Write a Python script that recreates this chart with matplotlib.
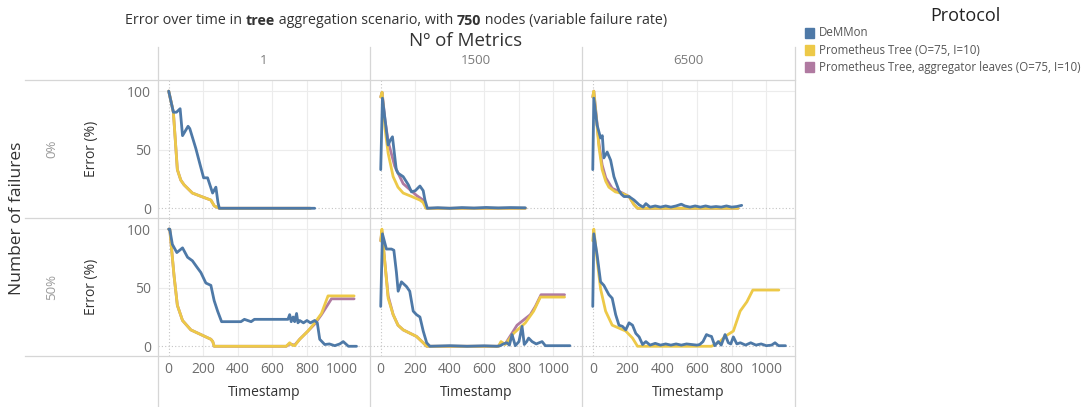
import matplotlib
matplotlib.use('Agg')
import matplotlib.pyplot as plt
from matplotlib.lines import Line2D
from matplotlib.patches import Rectangle
from matplotlib.text import Annotation

plt.rcParams['font.family'] = ['Open Sans', 'DejaVu Sans']

W, H = 1086, 407
fig = plt.figure(figsize=(W / 100, H / 100), dpi=100)


def fx(x):
    return x / W


def fy(y):
    return 1 - y / H


# ---------------- labels / categories ----------------
metrics = ['1', '1500', '6500']
failures = ['0%', '50%']
protocols = ['DeMMon', 'Prometheus Tree (O=75, I=10)',
             'Prometheus Tree, aggregator leaves (O=75, I=10)']
colors = ['#4e79a7', '#edc948', '#b07aa1']
x_ticks = [0, 200, 400, 600, 800, 1000]
y_ticks = [0, 50, 100]

# ---------------- data: 0% failures ----------------
# metrics = 1
t_dem_0_1 = [0, 27, 45, 66, 80, 112, 122, 157, 182, 202, 225, 254, 273, 285, 293, 845]
e_dem_0_1 = [100, 82, 82, 85, 62, 70, 68, 51, 37, 26, 26, 13, 18, 5, 0, 0]
t_pt_0_1 = [0, 27, 50, 70, 89, 137, 190, 244, 264, 293, 820]
e_pt_0_1 = [100, 82, 33, 24, 20, 13, 10, 7, 2, 0, 0]
t_pal_0_1 = [0, 27, 50, 70, 89, 137, 190, 244, 264, 293, 820]
e_pal_0_1 = [100, 82, 33, 24, 20, 13, 10, 7, 2, 0, 0]
# metrics = 1500
t_dem_0_1500 = [0, 10, 43, 55, 68, 90, 100, 130, 160, 178, 200, 227, 246, 256, 270,
                330, 400, 470, 540, 610, 680, 750, 837]
e_dem_0_1500 = [33, 94, 54, 58, 61, 33, 30, 27, 20, 14, 15, 19, 15, 7, 0,
                0.5, 0, 0.6, 0.2, 0.7, 0.3, 0.6, 0.4]
t_pt_0_1500 = [0, 8, 25, 43, 72, 100, 130, 180, 227, 245, 262, 837]
e_pt_0_1500 = [95, 99, 68, 47, 27, 18, 13, 10, 7, 5, 0, 0]
t_pal_0_1500 = [0, 8, 25, 43, 81, 130, 207, 246, 266, 837]
e_pal_0_1500 = [95, 99, 75, 57, 36, 21, 11, 7, 0, 0]
# metrics = 6500
t_dem_0_6500 = [0, 6, 25, 45, 55, 64, 83, 103, 122, 151, 165, 180, 209, 238, 267, 290,
                306, 330, 360, 390, 420, 450, 480, 510, 530, 560, 590, 620, 650, 680,
                710, 740, 770, 800, 830, 858]
e_dem_0_6500 = [33, 94, 71, 60, 62, 43, 48, 41, 27, 15, 12, 10, 10, 7, 3, 1,
                4, 1, 2, 1, 2, 1, 2, 3.5, 2, 1, 2, 1, 2, 1,
                1.5, 1, 2, 1, 1.5, 2.5]
t_pt_0_6500 = [0, 6, 25, 35, 54, 75, 93, 130, 171, 209, 238, 258, 837]
e_pt_0_6500 = [95, 100, 70, 53, 33, 23, 18, 14, 12.6, 10, 3, 0, 0]
t_pal_0_6500 = [0, 6, 25, 35, 54, 75, 112, 171, 209, 238, 258, 837]
e_pal_0_6500 = [95, 100, 72, 56, 37, 26, 17, 13, 10, 3, 0, 0]

# ---------------- data: 50% failures ----------------
# metrics = 1
t_dem_50_1 = [0, 6, 21, 47, 80, 109, 137, 166, 186, 215, 244, 263, 283, 306, 418, 438,
              477, 496, 690, 700, 709, 720, 729, 740, 748, 758, 780, 800, 820, 845, 860,
              874, 903, 930, 961, 990, 1010, 1040, 1087]
e_dem_50_1 = [100, 100, 87, 80, 84, 76, 73, 67, 63, 54, 52, 39, 30, 21, 21, 23,
              21, 23, 23, 27, 21, 25, 21, 28, 20, 22, 20, 22, 20, 22, 20,
              6, 1.5, 2, 0.5, 2, 4, 0, 0]
t_pt_50_1 = [0, 6, 31, 50, 80, 128, 186, 244, 255, 263, 680, 700, 715, 729, 758, 806,
             845, 884, 922, 1073]
e_pt_50_1 = [100, 100, 60, 35, 22, 14, 10, 6, 4, 0, 0, 3, 1, 0.5, 6, 13,
             20, 28, 43, 43]
t_pal_50_1 = [0, 6, 31, 50, 80, 128, 186, 244, 255, 263, 680, 700, 729, 758, 806, 845,
              884, 942, 1073]
e_pal_50_1 = [100, 100, 60, 35, 22, 14, 10, 6, 4, 0, 0, 2, 1, 6, 13, 19,
              27, 40.5, 40.5]
# metrics = 1500
t_dem_50_1500 = [0, 10, 33, 62, 76, 91, 101, 120, 149, 168, 188, 207, 227, 246, 266, 285,
                 400, 500, 600, 672, 692, 710, 730, 745, 760, 779, 800, 818, 831, 845,
                 856, 876, 900, 934, 953, 1095]
e_dem_50_1500 = [34, 96, 83, 83, 82, 63, 47, 55, 51, 47, 30, 27, 25, 13, 3, 0,
                 0.5, 0, 0.4, 0, 0.5, 2, 3, 1, 10, 0.5, 4, 17, 1.5, 4,
                 7, 4, 2, 4, 0.5, 0.5]
t_pt_50_1500 = [0, 7, 25, 43, 72, 100, 130, 207, 246, 266, 682, 696, 721, 769, 837, 885,
                924, 1064]
e_pt_50_1500 = [90, 100, 70, 41, 27, 18, 14, 8.4, 3, 0, 0, 4, 1.5, 11, 20, 30,
                42, 42]
t_pal_50_1500 = [0, 7, 25, 43, 72, 100, 130, 207, 246, 266, 682, 696, 721, 789, 866, 895,
                 928, 1064]
e_pal_50_1500 = [90, 98, 70, 43, 27, 18, 14, 8.4, 3, 0, 0, 3, 2, 18, 27, 34,
                 44, 44]
# metrics = 6500
t_dem_50_6500 = [0, 6, 25, 45, 64, 93, 112, 132, 151, 171, 190, 209, 229, 248, 267, 287,
                 306, 330, 360, 390, 420, 450, 480, 510, 540, 570, 600, 616, 635, 655,
                 670, 684, 703, 723, 740, 762, 781, 795, 810, 830, 850, 880, 910, 940,
                 970, 1000, 1030, 1050, 1070, 1110]
e_dem_50_6500 = [34, 96, 78, 55, 52, 44, 41, 27, 18, 17, 14, 20, 18, 11, 8, 1.5,
                 4, 1, 2.5, 1, 2, 1, 2, 1, 2, 1.5, 1, 1.5, 4, 10,
                 9, 8.4, 0.5, 4, 1, 10, 3, 2, 8, 2, 3, 1, 3, 1,
                 2, 0.5, 1, 3, 0.5, 0.5]
t_pt_50_6500 = [0, 6, 25, 45, 74, 112, 190, 229, 258, 684, 733, 762, 810, 849, 888, 922,
                1072]
e_pt_50_6500 = [90, 100, 74, 49, 30, 18, 13, 7, 0, 0, 4, 8.4, 13, 30, 38, 48,
                48]

# draw order inside each panel: purple, yellow, then blue on top
panels = {
    (0, 0): [(2, t_pal_0_1, e_pal_0_1), (1, t_pt_0_1, e_pt_0_1), (0, t_dem_0_1, e_dem_0_1)],
    (0, 1): [(2, t_pal_0_1500, e_pal_0_1500), (1, t_pt_0_1500, e_pt_0_1500),
             (0, t_dem_0_1500, e_dem_0_1500)],
    (0, 2): [(2, t_pal_0_6500, e_pal_0_6500), (1, t_pt_0_6500, e_pt_0_6500),
             (0, t_dem_0_6500, e_dem_0_6500)],
    (1, 0): [(2, t_pal_50_1, e_pal_50_1), (1, t_pt_50_1, e_pt_50_1), (0, t_dem_50_1, e_dem_50_1)],
    (1, 1): [(2, t_pal_50_1500, e_pal_50_1500), (1, t_pt_50_1500, e_pt_50_1500),
             (0, t_dem_50_1500, e_dem_50_1500)],
    (1, 2): [(1, t_pt_50_6500, e_pt_50_6500), (0, t_dem_50_6500, e_dem_50_6500)],
}

# ---------------- layout ----------------
col_edges = [158, 370, 582, 795]
row_edges = [80, 218, 356]
grid_c = '#ececec'
line_c = '#d6d6d6'
tick_c = '#6e6e6e'
dark = '#333333'

for r in range(2):
    for c in range(3):
        x0, x1 = col_edges[c], col_edges[c + 1]
        y0, y1 = row_edges[r], row_edges[r + 1]
        ax = fig.add_axes([fx(x0), fy(y1), (x1 - x0) / W, (y1 - y0) / H])
        ax.set_xlim(-62, 1165)
        ax.set_ylim(-8.3, 109.5)
        for s in ax.spines.values():
            s.set_visible(False)
        ax.patch.set_alpha(0)
        for xv in x_ticks[1:]:
            ax.axvline(xv, color=grid_c, lw=0.8, zorder=0)
        for yv in y_ticks[1:]:
            ax.axhline(yv, color=grid_c, lw=0.8, zorder=0)
        ax.axhline(0, color='#c4c4c4', lw=0.8, ls=(0, (1, 2)), zorder=1)
        ax.axvline(0, color='#c4c4c4', lw=0.8, ls=(0, (1, 2)), zorder=1)
        for k, (p, t, e) in enumerate(panels[(r, c)]):
            ax.plot(t, e, color=colors[p], lw=2.0, zorder=2 + k,
                    solid_joinstyle='round', solid_capstyle='round')
        ax.set_yticks(y_ticks)
        ax.set_xticks(x_ticks)
        ax.tick_params(length=0, colors=tick_c, labelsize=10)
        ax.tick_params(axis='y', pad=5)
        ax.tick_params(axis='x', pad=4)
        if c != 0:
            ax.set_yticklabels([])
        if r != 1:
            ax.set_xticklabels([])

# separator lines
for y in row_edges:
    fig.add_artist(Line2D([fx(25), fx(795)], [fy(y), fy(y)], color=line_c, lw=0.9))
for x in col_edges:
    fig.add_artist(Line2D([fx(x), fx(x)], [fy(47), fy(407)], color=line_c, lw=0.9))

# ---------------- texts ----------------
pieces = [('Error over time in ', 'normal'), ('tree', 'bold'),
          (' aggregation scenario, with ', 'normal'), ('750', 'bold'),
          (' nodes (variable failure rate)', 'normal')]
anchor = fig.text(fx(125), fy(24), pieces[0][0], fontsize=10.3, color=dark,
                  va='baseline', ha='left', weight=pieces[0][1])
for txt, wt in pieces[1:]:
    anchor = fig.add_artist(Annotation(
        txt, xy=(1, 0), xycoords=anchor, va='bottom', ha='left',
        fontsize=10.3, color=dark, weight=wt))

fig.text(fx(466), fy(41), 'Nº of Metrics', fontsize=13.5, color=dark, ha='center', va='center')
for c in range(3):
    cx = (col_edges[c] + col_edges[c + 1]) / 2
    fig.text(fx(cx), fy(60), metrics[c], fontsize=9.5, color='#7a7a7a', ha='center', va='center')
    fig.text(fx(cx), fy(393), 'Timestamp', fontsize=10, color=dark, ha='center', va='center')

fig.text(fx(17), fy(218), 'Number of failures', fontsize=12.5, color=dark,
         rotation=90, ha='center', va='center')
row_mid = [149, 287]
for r in range(2):
    fig.text(fx(52), fy(row_mid[r]), failures[r], fontsize=9.5, color='#9a9a9a',
             rotation=90, ha='center', va='center')
    fig.text(fx(92), fy(row_mid[r]), 'Error (%)', fontsize=10, color=dark,
             rotation=90, ha='center', va='center')

# legend
fig.text(fx(965), fy(16), 'Protocol', fontsize=13, color='#222222', ha='center', va='center')
leg_y = [33, 50, 67]
for i, name in enumerate(protocols):
    fig.add_artist(Rectangle((fx(805), fy(leg_y[i] + 5)), 9 / W, 10 / H,
                             color=colors[i], transform=fig.transFigure))
    fig.text(fx(819), fy(leg_y[i]), name, fontsize=8.3, color='#555555',
             ha='left', va='center')

fig.savefig('out.png', dpi=100)
